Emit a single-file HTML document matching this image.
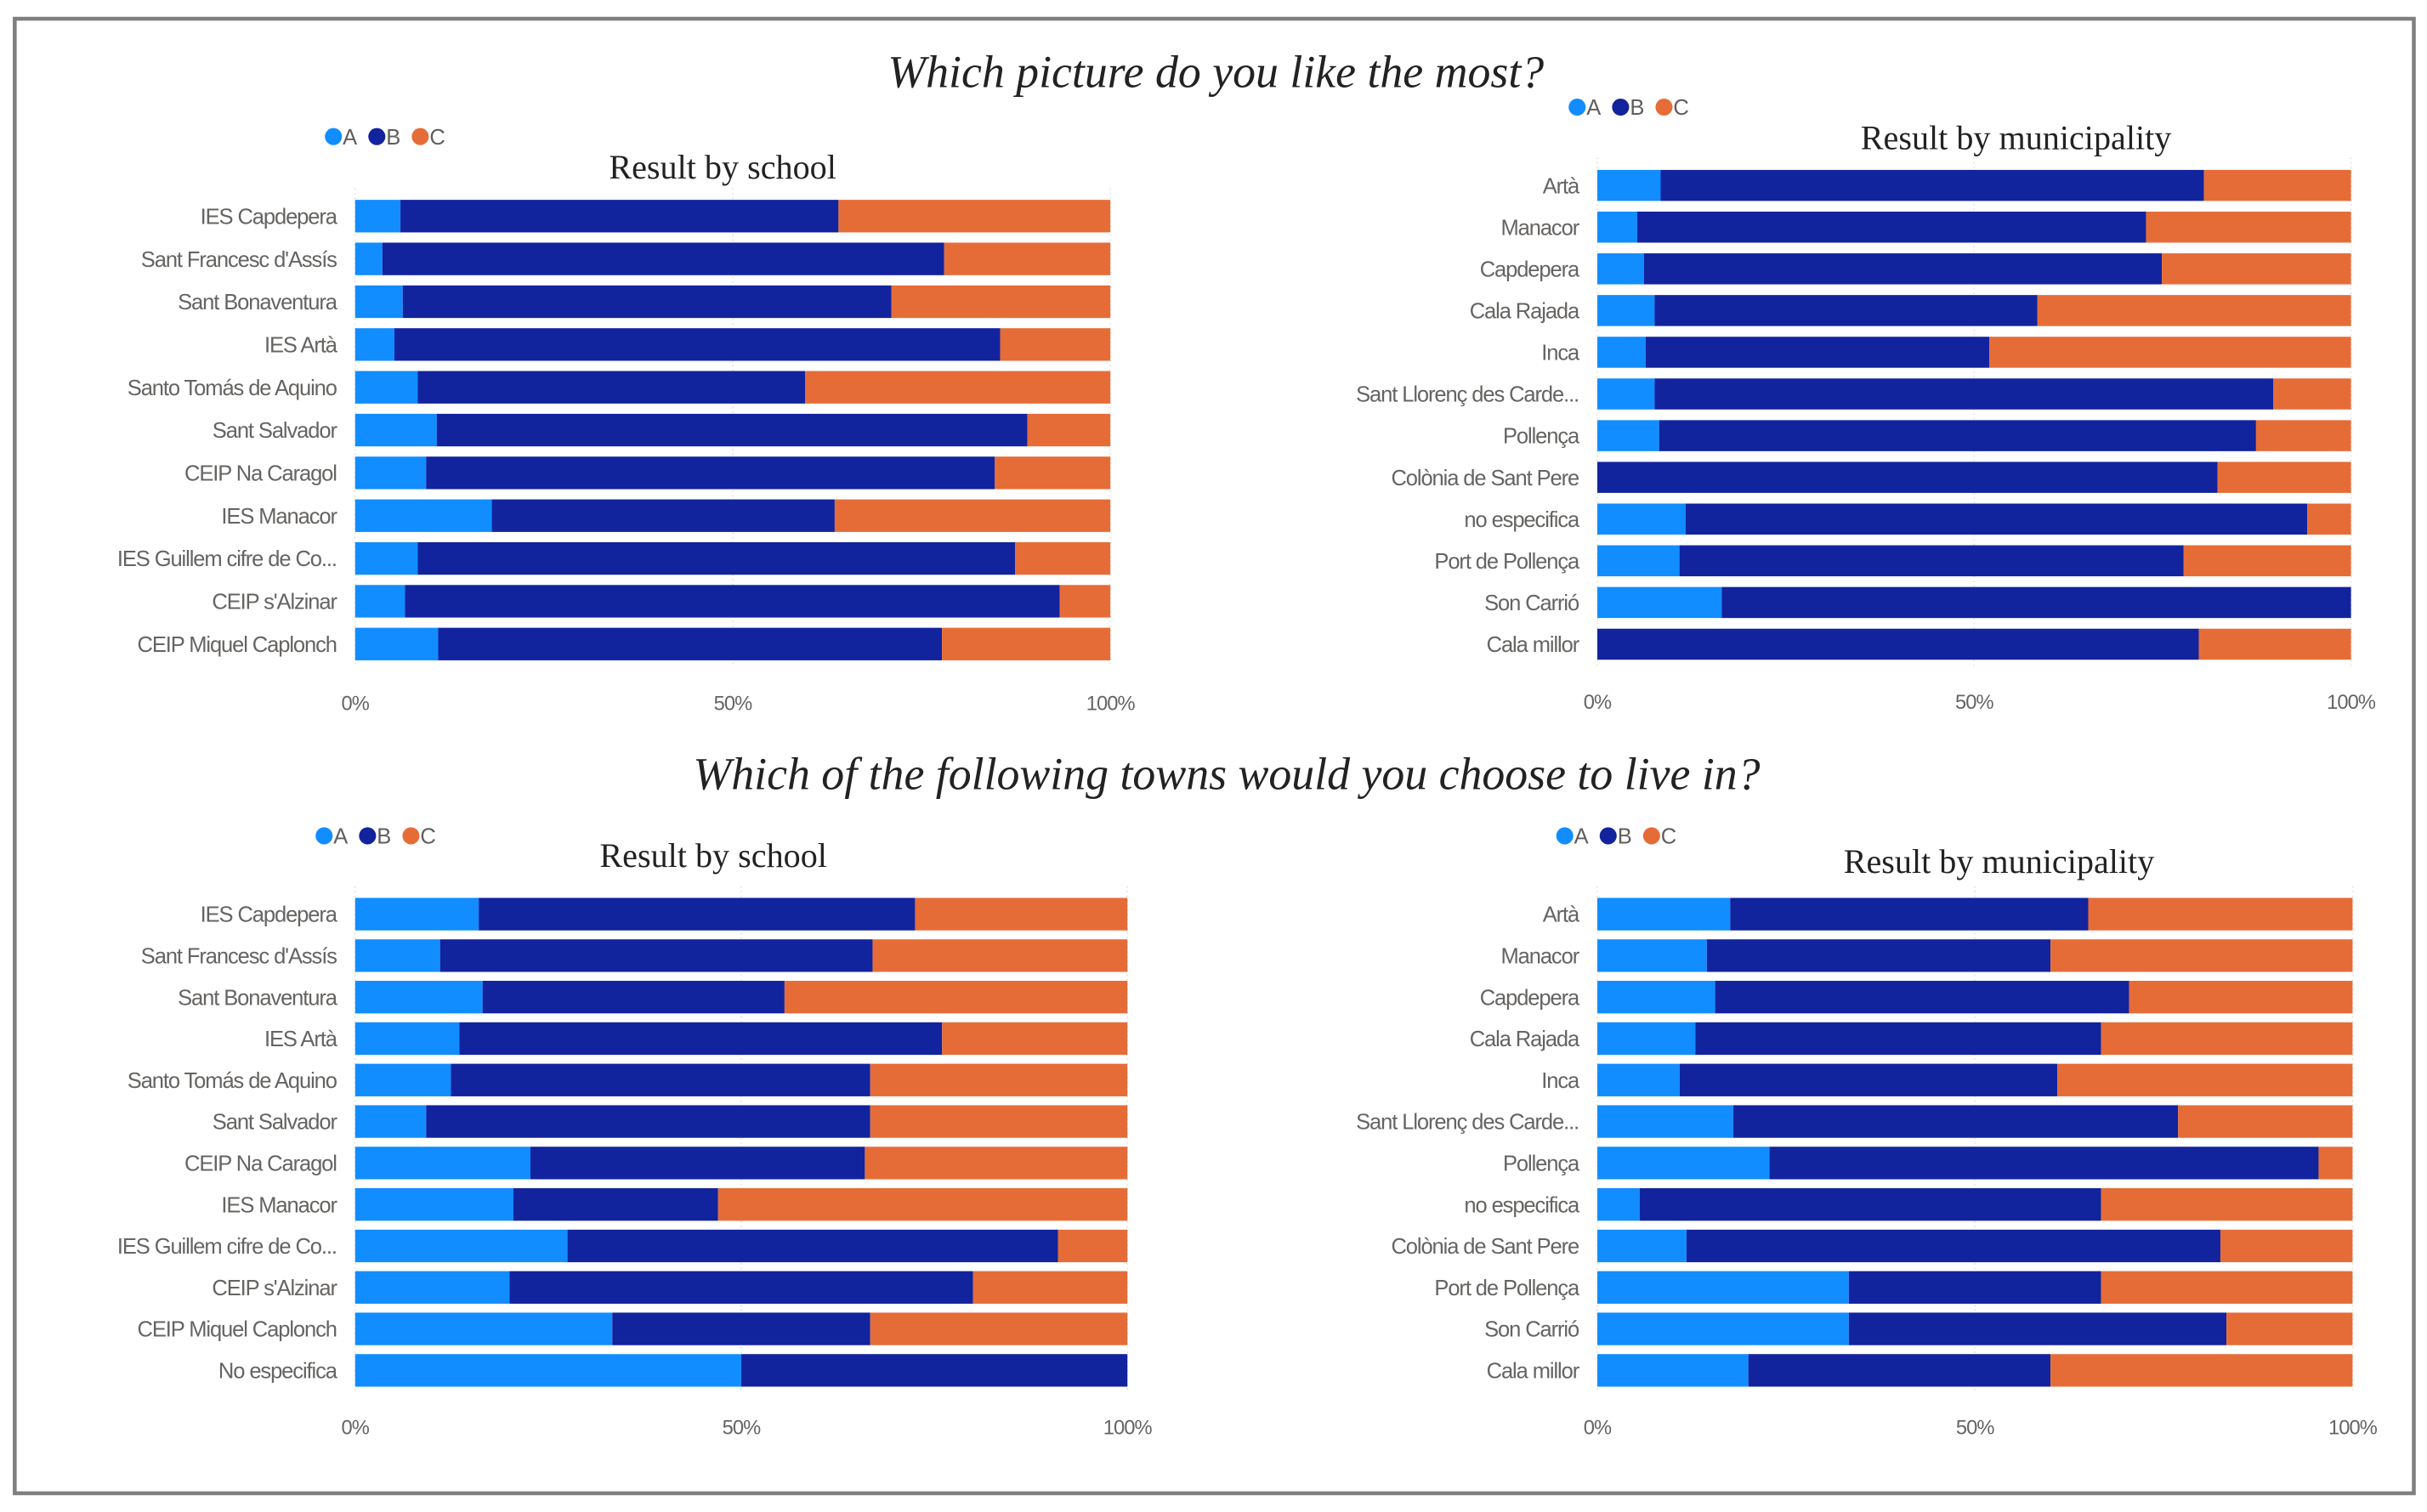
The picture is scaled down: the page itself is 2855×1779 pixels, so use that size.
<!DOCTYPE html>
<html><head><meta charset="utf-8">
<style>
html,body{margin:0;padding:0;background:#fff;}
svg{display:block;}
.lbl{font-family:"Liberation Sans",sans-serif;font-size:14px;fill:#666462;letter-spacing:-0.6px;}
.tick{font-family:"Liberation Sans",sans-serif;font-size:13px;fill:#666462;letter-spacing:-0.5px;}
.title{font-family:"Liberation Serif",serif;font-style:italic;font-size:29.5px;fill:#222;}
.sub{font-family:"Liberation Serif",serif;font-size:22px;fill:#222;}
.leg{font-family:"Liberation Sans",sans-serif;font-size:14px;fill:#605E5C;}
</style></head>
<body>
<svg id="chart" width="2855" height="1779" viewBox="0 0 1565 975" xmlns="http://www.w3.org/2000/svg">
<rect x="9.5" y="12" width="1547" height="951" fill="#fff" stroke="#7f7f7f" stroke-width="2.5"/>
<text class="title" x="784" y="56" text-anchor="middle">Which picture do you like the most?</text>
<text class="title" x="791" y="509" text-anchor="middle">Which of the following towns would you choose to live in?</text>
</svg>
<script>
const schools1 = ["IES Capdepera","Sant Francesc d'Assís","Sant Bonaventura","IES Artà","Santo Tomás de Aquino","Sant Salvador","CEIP Na Caragol","IES Manacor","IES Guillem cifre de Co...","CEIP s'Alzinar","CEIP Miquel Caplonch"];
const schools1A = [6,3.6,6.3,5.2,8.3,10.8,9.4,18.1,8.3,6.6,11];
const schools1B = [58,74.4,64.7,80.2,51.3,78.2,75.3,45.4,79.1,86.7,66.7];
const schools1C = [36,22,29,14.6,40.4,11,15.3,36.5,12.6,6.7,22.3];

const muni1 = ["Artà","Manacor","Capdepera","Cala Rajada","Inca","Sant Llorenç des Carde...","Pollença","Colònia de Sant Pere","no especifica","Port de Pollença","Son Carrió","Cala millor"];
const muni1A = [8.4,5.3,6.2,7.6,6.4,7.6,8.2,0,11.7,10.9,16.5,0];
const muni1B = [72.1,67.5,68.7,50.8,45.6,82.1,79.2,82.3,82.5,66.9,83.5,79.8];
const muni1C = [19.5,27.2,25.1,41.6,48,10.3,12.6,17.7,5.8,22.2,0,20.2];

const schools2 = ["IES Capdepera","Sant Francesc d'Assís","Sant Bonaventura","IES Artà","Santo Tomás de Aquino","Sant Salvador","CEIP Na Caragol","IES Manacor","IES Guillem cifre de Co...","CEIP s'Alzinar","CEIP Miquel Caplonch","No especifica"];
const schools2A = [16,11,16.5,13.5,12.4,9.2,22.7,20.5,27.5,20,33.3,50];
const schools2B = [56.5,56,39.1,62.5,54.3,57.5,43.3,26.5,63.5,60,33.4,50];
const schools2C = [27.5,33,44.4,24,33.3,33.3,34,53,9,20,33.3,0];

const muni2 = ["Artà","Manacor","Capdepera","Cala Rajada","Inca","Sant Llorenç des Carde...","Pollença","no especifica","Colònia de Sant Pere","Port de Pollença","Son Carrió","Cala millor"];
const muni2A = [17.6,14.5,15.6,13,10.9,18,22.8,5.6,11.8,33.3,33.3,20];
const muni2B = [47.4,45.5,54.8,53.7,50,58.9,72.7,61.1,70.7,33.4,50,40];
const muni2C = [35,40,29.6,33.3,39.1,23.1,4.5,33.3,17.5,33.3,16.7,40];

const tickValues = [0,50,100];
const tickLabels = ["0%","50%","100%"];
const seriesNames = ["A","B","C"];
const seriesColors = ["#118DFF","#12239E","#E66C37"];

const NS = "http://www.w3.org/2000/svg";
const svg = document.getElementById("chart");
function mk(tag, attrs, parent){
  const e = document.createElementNS(NS, tag);
  for (const k in attrs) e.setAttribute(k, attrs[k]);
  (parent||svg).appendChild(e);
  return e;
}

function drawChart(id, cats, A, B, C, box){
  const g = mk("g", {});
  
  
  const xs = v => box.x0 + (box.x1 - box.x0) * v / 100;
  const ys = i => box.yFirst + i * box.pitch;
  tickValues.forEach((t, i) => {
    const gl = mk("line", {x1: xs(t), x2: xs(t), y1: box.yFirst - 18, y2: ys(cats.length - 1) + 14, stroke: "#e6e6e6", "stroke-width": 1, "stroke-dasharray": "1,2"}, g);
    
    
    const tl = mk("text", {x: xs(t), y: box.tickY, class: "tick", "text-anchor": "middle"}, g);
    tl.textContent = tickLabels[i];
    
    
  });
  cats.forEach((c, i) => {
    const yc = ys(i);
    const lab = mk("text", {x: box.x0 - 12, y: yc + 5, class: "lbl", "text-anchor": "end"}, g);
    lab.textContent = c;
    
    
    const vals = [A[i], B[i], C[i]];
    let acc = 0;
    vals.forEach((v, s) => {
      if (v <= 0) return;
      const r = mk("rect", {x: xs(acc), y: yc - box.bh / 2, width: xs(acc + v) - xs(acc), height: box.bh, fill: seriesColors[s]}, g);
      
      
      acc += v;
    });
  });
  let lx = box.legX;
  seriesNames.forEach((n, s) => {
    const dot = mk("circle", {cx: lx + 5, cy: box.legY, r: 5.5, fill: seriesColors[s]}, g);
    
    
    const t = mk("text", {x: lx + 11, y: box.legY + 5, class: "leg"}, g);
    t.textContent = n;
    
    
    lx += 28;
  });
  const st = mk("text", {x: box.subX, y: box.subY, class: "sub", "text-anchor": "middle"}, g);
  st.textContent = box.sub;
  
  
}

drawChart("chart-picture-school", schools1, schools1A, schools1B, schools1C,
  {x0: 229, x1: 716, yFirst: 139.3, pitch: 27.6, bh: 21, tickY: 458, legX: 210, legY: 88, subX: 466, subY: 115, sub: "Result by school"});
drawChart("chart-picture-municipality", muni1, muni1A, muni1B, muni1C,
  {x0: 1030, x1: 1516, yFirst: 119.5, pitch: 26.9, bh: 20, tickY: 457, legX: 1012, legY: 69, subX: 1300, subY: 96, sub: "Result by municipality"});
drawChart("chart-towns-school", schools2, schools2A, schools2B, schools2C,
  {x0: 229, x1: 727, yFirst: 589.5, pitch: 26.75, bh: 21, tickY: 925, legX: 204, legY: 539, subX: 460, subY: 559, sub: "Result by school"});
drawChart("chart-towns-municipality", muni2, muni2A, muni2B, muni2C,
  {x0: 1030, x1: 1517, yFirst: 589.5, pitch: 26.75, bh: 21, tickY: 925, legX: 1004, legY: 539, subX: 1289, subY: 563, sub: "Result by municipality"});
</script>
</body></html>
